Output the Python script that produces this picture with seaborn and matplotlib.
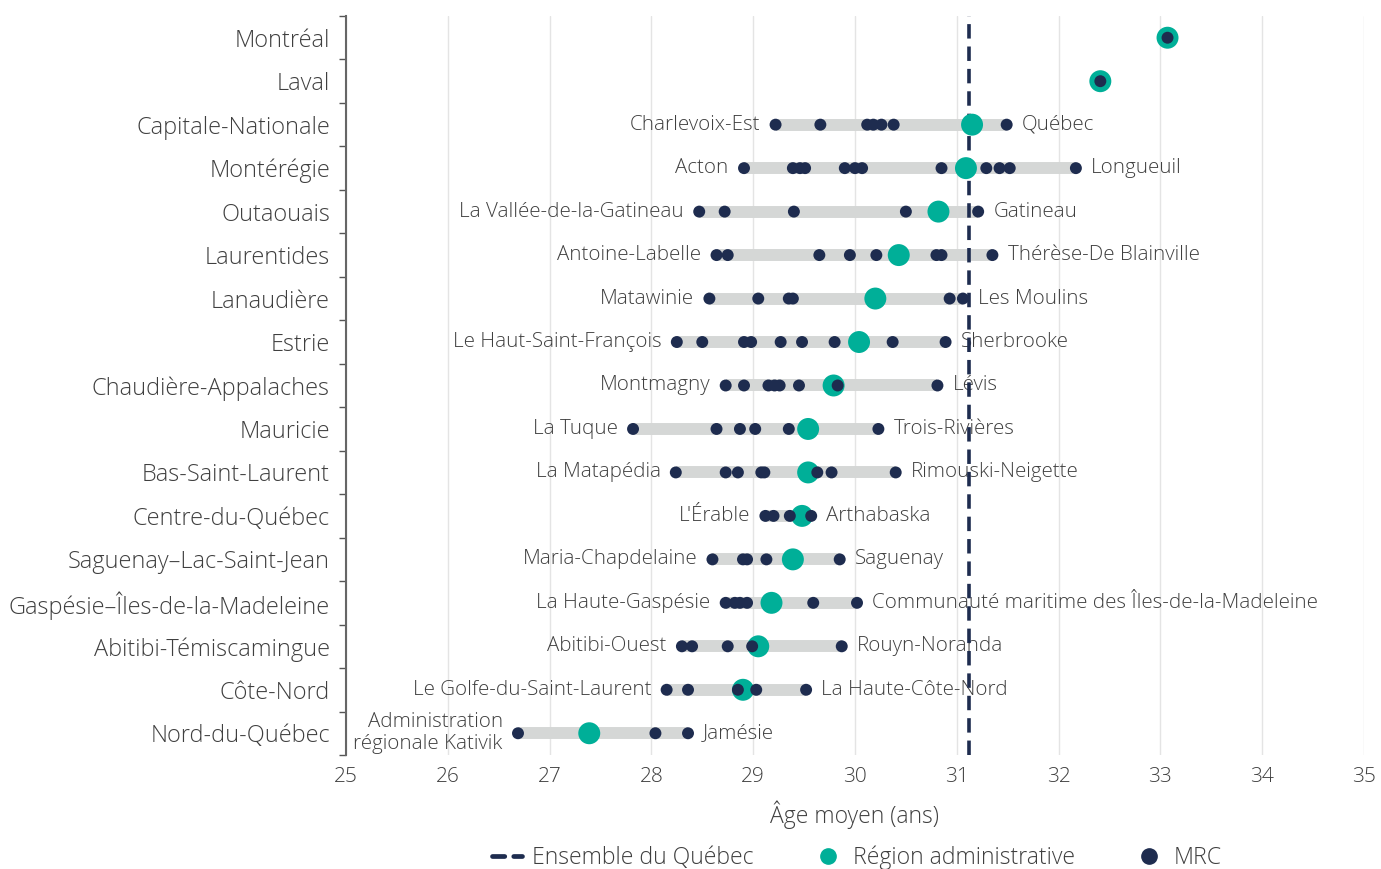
import pandas as pd
import matplotlib.pyplot as plt
import seaborn as sns
from matplotlib.lines import Line2D
from matplotlib.ticker import FixedLocator

# Âge moyen par région administrative et par MRC
regions = [
    "Montréal", "Laval", "Capitale-Nationale", "Montérégie", "Outaouais",
    "Laurentides", "Lanaudière", "Estrie", "Chaudière-Appalaches", "Mauricie",
    "Bas-Saint-Laurent", "Centre-du-Québec", "Saguenay–Lac-Saint-Jean",
    "Gaspésie–Îles-de-la-Madeleine", "Abitibi-Témiscamingue", "Côte-Nord",
    "Nord-du-Québec",
]
region_age = [33.07, 32.41, 31.15, 31.09, 30.82, 30.43, 30.20, 30.04, 29.79,
              29.54, 29.54, 29.48, 29.39, 29.18, 29.05, 28.90, 27.39]
mrc_age = [
    [33.07],
    [32.41],
    [29.22, 29.66, 30.12, 30.18, 30.26, 30.38, 31.49],
    [28.91, 29.39, 29.46, 29.51, 29.90, 30.00, 30.07, 30.85, 31.29, 31.42, 31.52, 32.17],
    [28.47, 28.72, 29.40, 30.50, 31.21],
    [28.64, 28.75, 29.65, 29.95, 30.21, 30.80, 30.85, 31.35],
    [28.57, 29.05, 29.35, 29.39, 30.93, 31.06],
    [28.25, 28.50, 28.91, 28.98, 29.27, 29.48, 29.80, 30.37, 30.89],
    [28.73, 28.91, 29.15, 29.21, 29.26, 29.45, 29.83, 30.81],
    [27.82, 28.64, 28.87, 29.02, 29.35, 30.23],
    [28.24, 28.73, 28.85, 29.08, 29.11, 29.63, 29.77, 30.40],
    [29.12, 29.20, 29.36, 29.57],
    [28.60, 28.90, 28.94, 29.13, 29.85],
    [28.73, 28.82, 28.87, 28.94, 29.59, 30.02],
    [28.30, 28.40, 28.75, 28.99, 29.87],
    [28.15, 28.36, 28.85, 29.03, 29.52],
    [26.69, 28.04, 28.36],
]
min_label = [
    None, None, "Charlevoix-Est", "Acton", "La Vallée-de-la-Gatineau",
    "Antoine-Labelle", "Matawinie", "Le Haut-Saint-François", "Montmagny",
    "La Tuque", "La Matapédia", "L'Érable", "Maria-Chapdelaine",
    "La Haute-Gaspésie", "Abitibi-Ouest", "Le Golfe-du-Saint-Laurent",
    "Administration\nrégionale Kativik",
]
max_label = [
    None, None, "Québec", "Longueuil", "Gatineau", "Thérèse-De Blainville",
    "Les Moulins", "Sherbrooke", "Lévis", "Trois-Rivières",
    "Rimouski-Neigette", "Arthabaska", "Saguenay",
    "Communauté maritime des Îles-de-la-Madeleine", "Rouyn-Noranda",
    "La Haute-Côte-Nord", "Jamésie",
]
quebec_age = 31.12
x_ticks = list(range(25, 36))

TEAL = "#00AF98"
NAVY = "#1E2C4F"
BAR = "#D5D7D6"
TXT = "#3F3F3F"

sns.set_theme(style="white")
plt.rcParams["font.family"] = ["Open Sans", "DejaVu Sans"]

reg_df = pd.DataFrame({"region": regions, "age": region_age,
                       "pos": range(len(regions))})
mrc_df = pd.DataFrame(
    [{"region": r, "age": a, "pos": i}
     for i, (r, ages) in enumerate(zip(regions, mrc_age)) for a in ages]
)
span = mrc_df.groupby("pos")["age"].agg(["min", "max"]).reset_index()

fig = plt.figure(figsize=(13.81, 8.69), dpi=100)
ax = fig.add_axes([0.2505, 0.1312, 0.7372, 0.8504])

for x in x_ticks:
    ax.axvline(x, color="#E4E4E4", lw=1, zorder=0)

ax.hlines(span["pos"], span["min"], span["max"], color=BAR, lw=8.6, zorder=1)
ax.axvline(quebec_age, color=NAVY, lw=2.6, linestyle=(0, (4, 2.2)), zorder=2.5)

sns.scatterplot(data=reg_df, x="age", y="pos", ax=ax, color=TEAL, s=250,
                edgecolor="none", zorder=3, legend=False)
sns.scatterplot(data=mrc_df, x="age", y="pos", ax=ax, color=NAVY, s=74,
                edgecolor="none", zorder=4, legend=False)

for _, row in span.iterrows():
    i = int(row["pos"])
    if min_label[i]:
        ax.annotate(min_label[i], (row["min"], i), xytext=(-11, 0),
                    textcoords="offset points", ha="right", va="center",
                    fontsize=14.8, color=TXT, fontweight="light", zorder=2,
                    linespacing=1.15)
    if max_label[i]:
        ax.annotate(max_label[i], (row["max"], i), xytext=(11, 0),
                    textcoords="offset points", ha="left", va="center",
                    fontsize=14.8, color=TXT, fontweight="light", zorder=2)

ax.set_xlim(25, 35)
ax.set_ylim(len(regions) - 0.5, -0.5)
ax.set_xticks(x_ticks)
ax.set_xticklabels([str(x) for x in x_ticks], fontsize=15, color=TXT,
                   fontweight="light")
ax.set_yticks(range(len(regions)))
ax.set_yticklabels(regions, fontsize=16.9, color=TXT, fontweight="light")
ax.yaxis.set_minor_locator(FixedLocator([i - 0.5 for i in range(len(regions) + 1)]))
ax.tick_params(axis="y", which="major", length=0, pad=11.5)
ax.tick_params(axis="y", which="minor", length=5, width=1, color="#555555", left=True)
ax.tick_params(axis="x", length=0, pad=9)

for s in ["top", "right", "bottom"]:
    ax.spines[s].set_visible(False)
ax.spines["left"].set_color("#666666")
ax.spines["left"].set_linewidth(1.5)

ax.set_xlabel("Âge moyen (ans)", fontsize=16.5, color=TXT, fontweight="light",
              labelpad=9.5)
ax.set_ylabel("")

handles = [
    Line2D([], [], color=NAVY, lw=3.4, linestyle=(0, (2.6, 1.9)),
           dash_capstyle="round"),
    Line2D([], [], color=TEAL, marker="o", linestyle="none", markersize=11),
    Line2D([], [], color=NAVY, marker="o", linestyle="none", markersize=11),
]
leg = fig.legend(handles, ["Ensemble du Québec", "Région administrative", "MRC"],
                 loc="center", bbox_to_anchor=(857 / 1381, 1 - 858 / 869),
                 ncol=3, frameon=False, fontsize=16.6, columnspacing=2.55,
                 handletextpad=0.45, handlelength=1.3)
for t in leg.get_texts():
    t.set_color(TXT)
    t.set_fontweight("light")

fig.savefig("out.png", dpi=100)
